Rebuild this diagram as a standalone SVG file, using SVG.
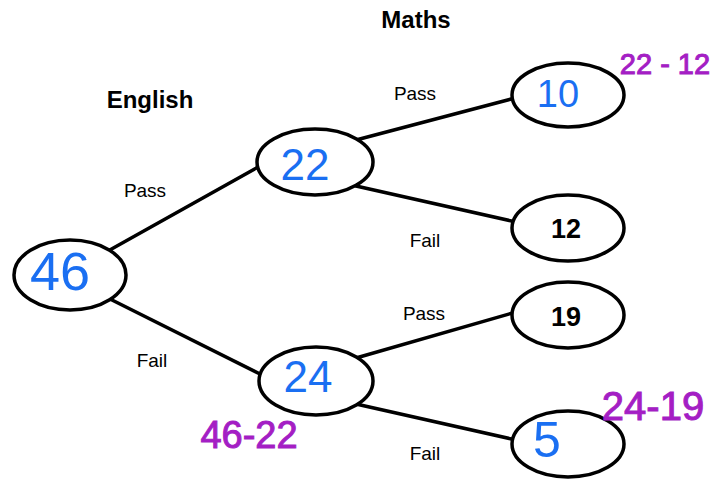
<svg xmlns="http://www.w3.org/2000/svg" width="718" height="480" viewBox="0 0 718 480">
<style>
.node{fill:#fff;stroke:#000;stroke-width:3.5}
.edge{stroke:#000;stroke-width:3.5;fill:none;stroke-linecap:round}
.lbl{font-family:"Liberation Sans",Arial,sans-serif;font-size:19px;fill:#000;text-anchor:middle}
.hdr{font-family:"Liberation Sans",Arial,sans-serif;font-size:24px;font-weight:bold;fill:#000;text-anchor:middle}
.num{font-family:"Liberation Sans",Arial,sans-serif;font-size:27px;font-weight:bold;fill:#000;text-anchor:middle}
.hand{font-family:"Liberation Sans",Arial,sans-serif;fill:#1a6ff2;text-anchor:middle}
.calc{font-family:"Liberation Sans",Arial,sans-serif;fill:#a41ec4;text-anchor:middle;stroke:#a41ec4;stroke-width:1}
</style>
<rect width="718" height="480" fill="#fff"/>
<text class="hdr" x="416" y="28" font-size="26">Maths</text>
<text class="hdr" x="150" y="108">English</text>
<g id="connectors">
<line class="edge" x1="108" y1="251" x2="260" y2="166"/>
<line class="edge" x1="108" y1="298" x2="262" y2="375"/>
<line class="edge" x1="356" y1="140" x2="515" y2="98"/>
<line class="edge" x1="356" y1="186" x2="516" y2="222"/>
<line class="edge" x1="356" y1="358" x2="516" y2="312"/>
<line class="edge" x1="356" y1="404" x2="516" y2="440"/>
<text class="lbl" x="145" y="197">Pass</text>
<text class="lbl" x="152" y="367">Fail</text>
<text class="lbl" x="415" y="100">Pass</text>
<text class="lbl" x="425" y="247">Fail</text>
<text class="lbl" x="424" y="320">Pass</text>
<text class="lbl" x="425" y="460">Fail</text>
</g>
<g id="n46">
<ellipse class="node" cx="70" cy="275" rx="56" ry="35"/>
<text class="hand" x="60" y="290" font-size="54">46</text>
</g>
<g id="n22">
<ellipse class="node" cx="315" cy="162" rx="58" ry="33"/>
<text class="hand" x="305" y="180" font-size="44">22</text>
</g>
<g id="n24">
<ellipse class="node" cx="316" cy="381" rx="57" ry="34"/>
<text class="hand" x="308" y="392" font-size="44">24</text>
</g>
<g id="n10">
<ellipse class="node" cx="568" cy="95" rx="56" ry="32"/>
<text class="hand" x="558" y="107" font-size="38">10</text>
</g>
<g id="n12">
<ellipse class="node" cx="568" cy="228" rx="56" ry="33"/>
<text class="num" x="566" y="238">12</text>
</g>
<g id="n19">
<ellipse class="node" cx="568" cy="315" rx="56" ry="33"/>
<text class="num" x="566" y="326">19</text>
</g>
<g id="n5">
<ellipse class="node" cx="568" cy="444" rx="56" ry="33"/>
<text class="hand" x="547" y="457" font-size="50">5</text>
</g>
<text class="calc" x="665" y="74" font-size="29">22 - 12</text>
<text class="calc" x="653" y="420" font-size="40">24-19</text>
<text class="calc" x="249" y="448" font-size="38">46-22</text>
</svg>
